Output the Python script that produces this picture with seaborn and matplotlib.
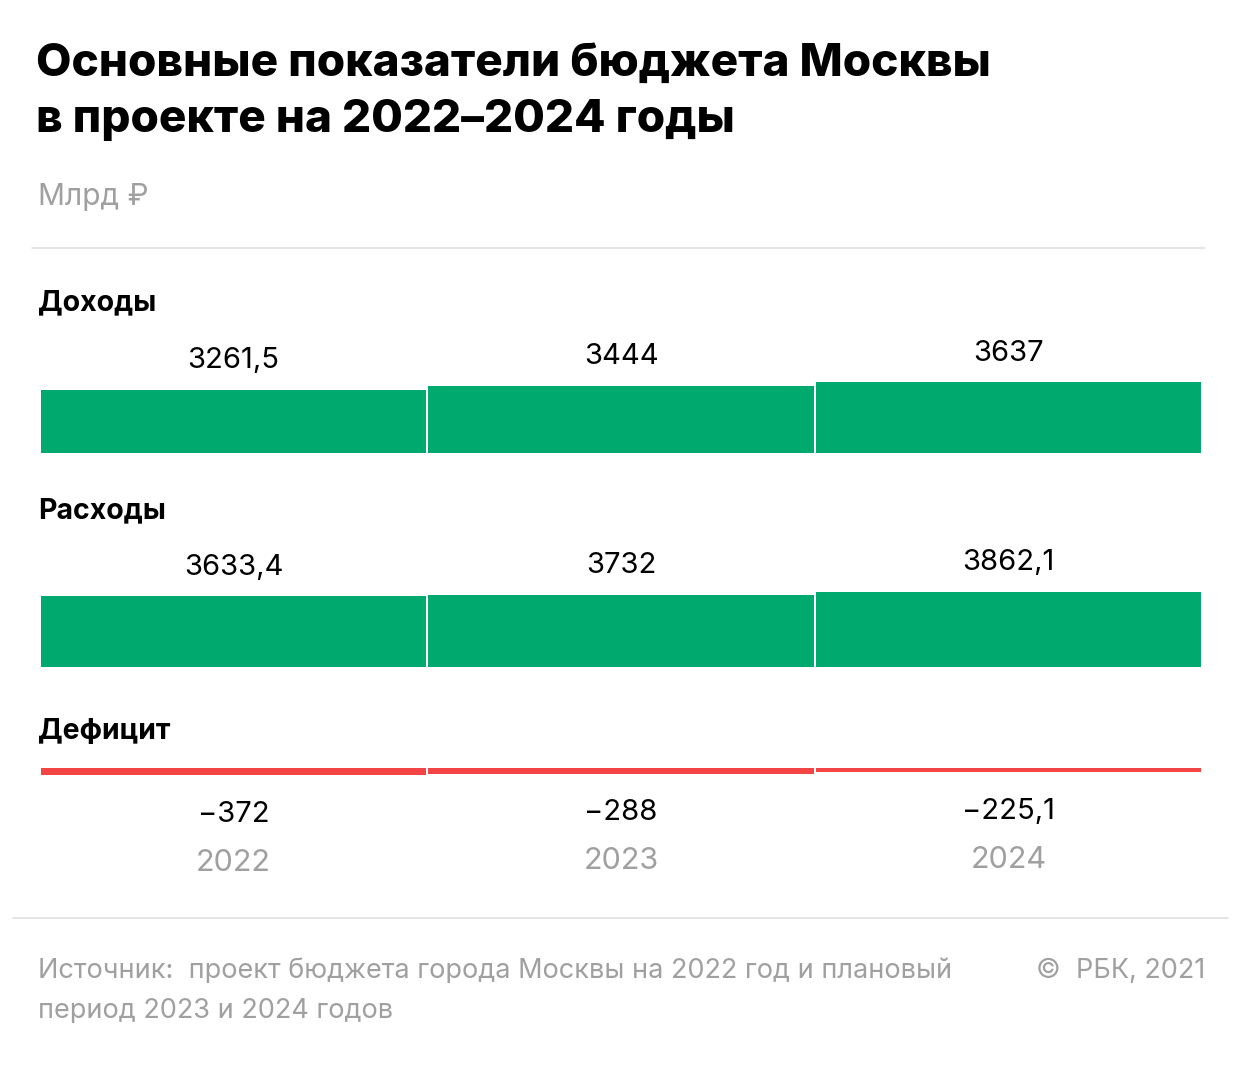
import matplotlib
matplotlib.use("Agg")
import matplotlib.pyplot as plt
import seaborn as sns
import pandas as pd
from matplotlib.lines import Line2D

years = ["2022", "2023", "2024"]
income = [3261.5, 3444, 3637]
spending = [3633.4, 3732, 3862.1]
deficit = [-372, -288, -225.1]
income_lbl = ["3261,5", "3444", "3637"]
spending_lbl = ["3633,4", "3732", "3862,1"]
deficit_lbl = ["\u2212372", "\u2212288", "\u2212225,1"]

sns.set_theme(style="white")
plt.rcParams["font.family"] = ["Inter", "DejaVu Sans"]

W, H = 1240, 1072
fig = plt.figure(figsize=(12.4, 10.72), dpi=100)

def px_axes(left, top, width, height):
    return fig.add_axes([left / W, 1 - (top + height) / H, width / W, height / H])

SCALE = 5150  # value units per 100 px
GREEN = "#00aa6e"
RED = "#f44546"

def panel(vals, labels, top, color, neg=False):
    ax = px_axes(40, top, 1162, 100)
    df = pd.DataFrame({"year": years, "v": vals})
    sns.barplot(data=df, x="year", y="v", color=color, width=0.995,
                linewidth=0, saturation=1, ax=ax)
    ax.set_xlim(-0.5, 2.5)
    if neg:
        ax.set_ylim(-SCALE, 0)
        for i, (v, l) in enumerate(zip(vals, labels)):
            ax.text(i, v - 2000, l, ha="center", va="center", fontsize=21, color="black")
            ax.text(i, v - 4500, years[i], ha="center", va="center", fontsize=22, color="#a0a0a0")
    else:
        ax.set_ylim(0, SCALE)
        for i, (v, l) in enumerate(zip(vals, labels)):
            ax.text(i, v + 1500, l, ha="center", va="center", fontsize=21, color="black")
    ax.axis("off")
    return ax

panel(income, income_lbl, 353, GREEN)
panel(spending, spending_lbl, 567, GREEN)
panel(deficit, deficit_lbl, 768, RED, neg=True)

fig.text(36 / W, 1 - 64 / H, "Основные показатели бюджета Москвы",
         fontsize=33, fontweight="heavy", va="center", ha="left", color="black")
fig.text(36 / W, 1 - 120 / H, "в проекте на 2022\u20132024 годы",
         fontsize=33, fontweight="heavy", va="center", ha="left", color="black")
fig.text(38 / W, 1 - 197 / H, "Млрд \u20bd", fontsize=21.5, color="#a0a0a0", va="center")
for label, y in [("Доходы", 303), ("Расходы", 511), ("Дефицит", 731)]:
    fig.text(38 / W, 1 - y / H, label, fontsize=20.5, fontweight="bold", va="center", color="black")

fig.add_artist(Line2D([32 / W, 1205 / W], [1 - 248 / H] * 2, color="#e0e0e0", lw=1.2))
fig.add_artist(Line2D([13 / W, 1228 / W], [1 - 918 / H] * 2, color="#e0e0e0", lw=1.2))

fig.text(38 / W, 1 - 971 / H, "Источник:  проект бюджета города Москвы на 2022 год и плановый",
         fontsize=19.5, color="#a0a0a0", va="center")
fig.text(38 / W, 1 - 1011 / H, "период 2023 и 2024 годов",
         fontsize=19.5, color="#a0a0a0", va="center")
fig.text(1205 / W, 1 - 971 / H, "\u00a9  РБК, 2021", fontsize=19.5, color="#a0a0a0",
         va="center", ha="right")

fig.savefig("out.png", dpi=100, facecolor="white")
